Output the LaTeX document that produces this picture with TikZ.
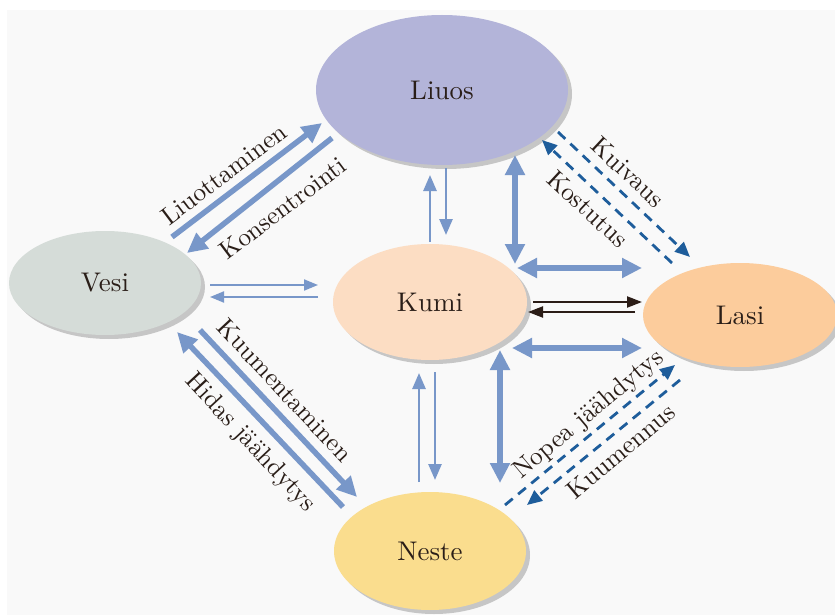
\documentclass[tikz,border=0pt]{standalone}
\usepackage{fontspec}
\setmainfont{lmroman10-regular}[Extension=.otf]
\usetikzlibrary{shapes.geometric,arrows.meta,shadows}
\definecolor{bg}{HTML}{F9F9F9}
\definecolor{cliuos}{HTML}{B3B4D9}
\definecolor{cvesi}{HTML}{D5DCD8}
\definecolor{ckumi}{HTML}{FCDDC3}
\definecolor{classi}{HTML}{FCCC9C}
\definecolor{cneste}{HTML}{FADD8E}
\definecolor{shadowgray}{HTML}{C6C6C6}
\definecolor{arrblue}{HTML}{7897C9}
\definecolor{dblue}{HTML}{1E5D9B}
\definecolor{blk}{HTML}{2B1D17}
\definecolor{txt}{HTML}{2A1E18}
\begin{document}
\begin{tikzpicture}[x=1pt,y=-1pt,
  state/.style={ellipse, inner sep=0pt, text=txt,
    font=\fontsize{27}{30}\selectfont,
    general shadow={fill=shadowgray, shadow xshift=4pt, shadow yshift=-4pt}},
  big/.style={draw=arrblue, line width=5.5pt, -{Triangle[length=20pt,width=19pt]}},
  bigd/.style={draw=arrblue, line width=5.5pt, {Triangle[length=20pt,width=19pt]}-{Triangle[length=20pt,width=19pt]}},
  thinar/.style={draw=arrblue, line width=2pt, -{Triangle[length=14pt,width=11pt]}},
  vthin/.style={draw=arrblue, line width=2.6pt, -{Triangle[length=16pt,width=13pt]}},
  blkar/.style={draw=blk, line width=2.2pt, -{Triangle[length=15pt,width=11pt]}},
  dsh/.style={draw=dblue, line width=2.8pt, dash pattern=on 10pt off 7pt, -{Triangle[length=15pt,width=13pt]}},
  lab/.style={inner sep=0pt, text=txt, font=\fontsize{25.5}{28}\selectfont}]
\useasboundingbox (0,0) rectangle (835,615);
\fill[bg] (7,10) rectangle (835,615);

% states
\node[state, fill=cliuos, minimum width=252pt, minimum height=150pt] (liuos) at (442,90) {Liuos};
\node[state, fill=cvesi, minimum width=192pt, minimum height=104pt] (vesi) at (105,283) {Vesi};
\node[state, fill=ckumi, minimum width=194pt, minimum height=116pt] (kumi) at (430,302) {Kumi};
\node[state, fill=classi, minimum width=194pt, minimum height=104pt] (lasi) at (740,315) {Lasi};
\node[state, fill=cneste, minimum width=192pt, minimum height=118pt] (neste) at (430,551) {Neste};

% arrow end points
\coordinate (vl1) at (172,237); \coordinate (lv1) at (322,123);
\coordinate (lv2) at (332,138); \coordinate (vl2) at (187,253);
\coordinate (vk1) at (210,285); \coordinate (kv1) at (318,285);
\coordinate (kv2) at (318,297); \coordinate (vk2) at (210,297);
\coordinate (vn1) at (200,330); \coordinate (nv1) at (357,497);
\coordinate (nv2) at (343,507); \coordinate (vn2) at (177,332);
\coordinate (kl1) at (430,242); \coordinate (lk1) at (430,175);
\coordinate (lk2) at (446,168); \coordinate (kl2) at (446,235);
\coordinate (kn1) at (419,482); \coordinate (nk1) at (419,373);
\coordinate (nk2) at (435,372); \coordinate (kn2) at (435,480);
\coordinate (uv1) at (515,155); \coordinate (uv2) at (515,264);
\coordinate (uh1) at (517,268); \coordinate (uh2) at (642,268);
\coordinate (kb1) at (533,302); \coordinate (kb2) at (642,302);
\coordinate (kb3) at (635,312); \coordinate (kb4) at (528,312);
\coordinate (lh1) at (512,348); \coordinate (lh2) at (642,348);
\coordinate (lv1b) at (500,350); \coordinate (lv2b) at (500,483);
\coordinate (dk1) at (558,132); \coordinate (dk2) at (690,257);
\coordinate (dk3) at (672,263); \coordinate (dk4) at (542,140);
\coordinate (dn1) at (505,505); \coordinate (dn2) at (675,365);
\coordinate (dn3) at (680,380); \coordinate (dn4) at (527,505);

% connectors
\draw[big] (vl1) -- (lv1);
\draw[big] (lv2) -- (vl2);
\draw[thinar] (vk1) -- (kv1);
\draw[thinar] (kv2) -- (vk2);
\draw[big] (vn1) -- (nv1);
\draw[big] (nv2) -- (vn2);
\draw[vthin] (kl1) -- (lk1);
\draw[vthin] (lk2) -- (kl2);
\draw[vthin] (kn1) -- (nk1);
\draw[vthin] (nk2) -- (kn2);
\draw[bigd] (uv1) -- (uv2);
\draw[bigd] (uh1) -- (uh2);
\draw[blkar] (kb1) -- (kb2);
\draw[blkar] (kb3) -- (kb4);
\draw[bigd] (lh1) -- (lh2);
\draw[bigd] (lv1b) -- (lv2b);
\draw[dsh] (dk1) -- (dk2);
\draw[dsh] (dk3) -- (dk4);
\draw[dsh] (dn1) -- (dn2);
\draw[dsh] (dn3) -- (dn4);

% labels
\node[lab, rotate=37] (t1) at (224,174) {Liuottaminen};
\node[lab, rotate=37] (t2) at (283,208) {Konsentrointi};
\node[lab, rotate=-47] (t3) at (285,390) {Kuumentaminen};
\node[lab, rotate=-47] (t4) at (250,443) {Hidas jäähdytys};
\node[lab, rotate=-43] (t5) at (628,172) {Kuivaus};
\node[lab, rotate=-43] (t6) at (588,209) {Kostutus};
\node[lab, rotate=40] (t7) at (589,415) {Nopea jäähdytys};
\node[lab, rotate=40] (t8) at (621,451) {Kuumennus};
\end{tikzpicture}
\end{document}
